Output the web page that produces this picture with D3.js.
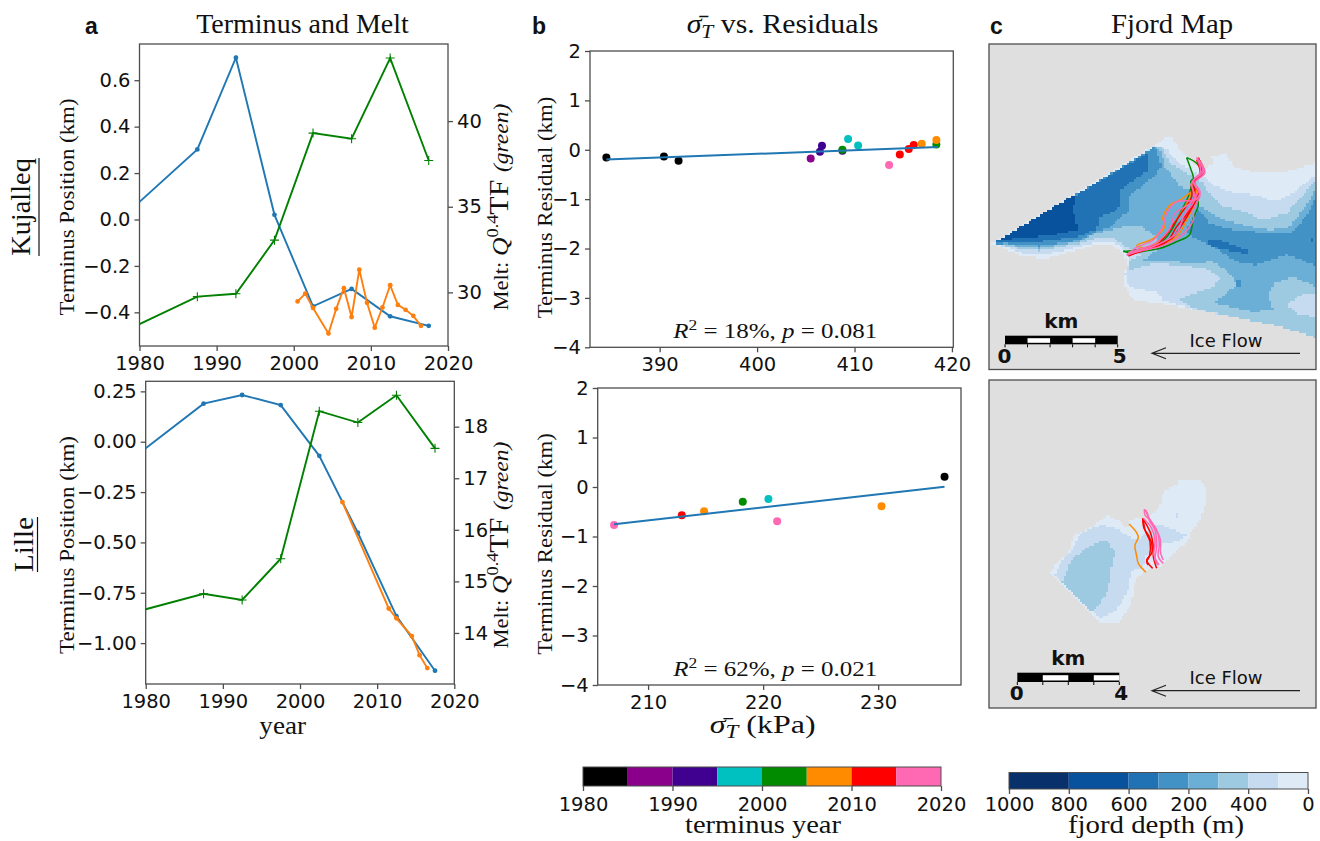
<!DOCTYPE html>
<html>
<head>
<meta charset="utf-8">
<script src="https://cdn.jsdelivr.net/npm/d3@7"></script>
<style>
  body { margin: 0; background: #fff; }
  text { fill: #111; }
  .tick line { stroke: #4d4d4d; stroke-width: 1.3px; }
  .serif { font-family: "Liberation Serif", serif; }
  .dv { font-family: "DejaVu Sans", sans-serif; }
</style>
</head>
<body>
<svg id="fig" width="1320" height="841"></svg>
<script>
// panel a, Kujalleq
const surveyYears = [1980, 1987.5, 1992.5, 1997.5, 2002.5, 2007.5, 2012.5, 2017.5];
const kujTerminus = [0.076, 0.302, 0.697, 0.02, -0.374, -0.299, -0.417, -0.458];
const kujMelt = [28.15, 29.75, 29.92, 33.05, 39.3, 38.97, 43.68, 37.7];
const kujOrangeYears = [2000.5, 2001.5, 2002.5, 2004.5, 2005.5, 2006.5, 2007.5, 2008.5, 2009.5, 2010.5, 2011.5, 2012.5, 2013.5, 2014.5, 2015.5, 2016.5];
const kujOrange = [-0.353, -0.319, -0.381, -0.491, -0.385, -0.296, -0.42, -0.216, -0.359, -0.466, -0.379, -0.283, -0.368, -0.389, -0.415, -0.458];

// panel a, Lille
const lilTerminus = [-0.033, 0.189, 0.232, 0.182, -0.07, -0.452, -0.866, -1.137];
const lilMelt = [14.46, 14.76, 14.64, 15.44, 18.3, 18.08, 18.61, 17.58];
const lilOrangeYears = [2005.5, 2011.5, 2012.5, 2014.5, 2015.5, 2016.5];
const lilOrange = [-0.3, -0.828, -0.877, -0.965, -1.06, -1.124];

// panel b, scatter: stress, residual, colour band
const kujStress = [384.53, 390.44, 391.94, 405.5, 406.45, 406.66, 408.76, 408.76, 409.34, 410.37, 413.55, 414.65, 415.57, 416.08, 418.4, 416.9, 418.4];
const kujResidual = [-0.155, -0.135, -0.223, -0.176, -0.04, 0.08, -0.02, 0, 0.216, 0.088, -0.31, -0.095, 0.014, 0.095, 0.108, 0.122, 0.196];
const kujYearBand = [0, 0, 0, 1, 2, 2, 2, 4, 3, 3, 7, 6, 6, 6, 4, 5, 5];
const kujFit = [[384.53, -0.196], [418.55, 0.054]];

const lilStress = [207.04, 221.22, 212.93, 214.87, 230.29, 218.23, 220.46, 235.77];
const lilResidual = [-0.768, -0.694, -0.572, -0.49, -0.39, -0.296, -0.242, 0.209];
const lilYearBand = [7, 7, 6, 5, 5, 4, 3, 0];
const lilFit = [[207.04, -0.754], [235.77, 0.007]];

// colour bars
const yearEdges = [1980, 1985, 1990, 1995, 2000, 2005, 2010, 2015, 2020];
const yearColors = ["#000000", "#8b008b", "#400090", "#00c0c0", "#008b00", "#ff8c00", "#ff0000", "#ff69b4"];
const depthEdges = [1000, 800, 600, 500, 400, 300, 200, 100, 0];
const depthColors = ["#08306b", "#08519c", "#2171b5", "#4292c6", "#6baed6", "#9ecae1", "#c6dbef", "#deebf7"];
const depthTicks = [1000, 800, 600, 400, 200, 0];
const depthTickLabels = ["1000", "800", "600", "200", "400", "0"];

const kujRingBands = [7, 6, 5, 4, 3, 3, 2, 2, 3, 6, 1, 2];
const kujRings = [
  [[35,340],[530,42],[545,30],[572,18],[600,60],[640,100],[672,120],[700,100],[695,80],[735,70],[765,112],[830,128],[920,125],[1007,100],[1007,622],[900,590],[780,565],[650,540],[540,520],[460,510],[430,462],[440,395],[430,375],[400,347],[350,342],[300,358],[200,385],[130,380],[70,355]],
  [[50,345],[530,45],[560,55],[590,95],[640,125],[680,145],[700,165],[760,190],[830,195],[880,215],[930,195],[1007,135],[1007,622],[900,590],[780,565],[650,540],[545,510],[540,490],[445,470],[435,430],[450,385],[440,365],[400,335],[350,335],[300,350],[190,375],[130,370],[80,352]],
  [[55,342],[530,48],[545,50],[570,100],[640,140],[670,160],[690,195],[730,230],[790,245],[850,270],[920,250],[960,205],[1007,150],[1007,622],[900,590],[780,565],[640,535],[600,510],[640,490],[700,470],[720,445],[690,420],[620,408],[520,400],[450,420],[445,395],[480,375],[440,350],[400,325],[350,325],[300,340],[180,362],[130,358],[80,348]],
  [[50,342],[525,50],[540,60],[555,110],[600,170],[640,180],[660,230],[730,270],[810,290],[870,300],[930,290],[980,225],[1007,180],[1007,470],[940,440],[880,460],[865,500],[880,540],[820,545],[700,520],[770,465],[750,430],[700,395],[620,400],[560,390],[490,390],[530,360],[530,320],[480,285],[430,290],[350,310],[300,335],[180,355],[130,350],[75,345]],
  [[45,342],[525,50],[545,110],[520,140],[450,195],[450,240],[415,265],[395,290],[350,305],[300,330],[180,348],[130,345],[75,340]],
  [[655,240],[690,280],[760,300],[880,310],[940,305],[985,250],[1007,200],[1007,405],[920,375],[830,405],[770,395],[700,350],[640,320],[620,300],[640,260]],
  [[40,340],[505,68],[505,120],[420,180],[415,240],[360,260],[350,298],[295,320],[140,340],[65,340]],
  [[685,330],[720,330],[800,360],[805,372],[750,362],[690,350]],
  [[770,450],[785,450],[785,470],[770,470]],
  [[920,525],[960,495],[1007,490],[1007,560],[960,555]],
  [[45,338],[280,195],[290,190],[280,240],[295,300],[200,318],[130,322],[60,332]],
  [[992,325],[1000,325],[1000,335],[992,335]]
];
const lilRingBands = [7, 6, 5, 6];
const lilRings = [
  [[150,372],[165,345],[205,310],[220,260],[285,225],[320,195],[345,205],[385,235],[390,210],[430,200],[440,210],[485,160],[490,125],[530,105],[535,90],[600,90],[620,120],[615,165],[600,210],[570,250],[560,280],[530,300],[510,325],[480,350],[430,365],[405,395],[395,460],[360,515],[295,515],[270,490],[190,410]],
  [[165,375],[185,335],[215,300],[240,250],[300,225],[340,230],[395,265],[410,270],[470,220],[510,235],[560,255],[530,275],[490,280],[440,310],[430,350],[395,362],[385,420],[350,480],[300,505],[275,480],[190,405]],
  [[187,395],[215,330],[250,300],[285,280],[320,270],[345,310],[335,350],[325,420],[295,470],[275,487],[240,450]],
  [[530,188],[537,188],[537,205],[530,205]]
];

// glacier fronts on the map, by colour band
const kujFrontBands = [4, 4, 5, 5, 5, 6, 6, 6, 7, 7, 7, 7];
const kujFronts = [
  [[620,83],[628,105],[637,130],[640,145],[632,155],[650,185],[655,225],[640,265],[628,315],[590,335],[540,355],[480,365],[445,368],[430,362]],
  [[620,83],[650,100],[665,130],[640,155],[625,200],[600,250],[575,300],[540,340],[480,358],[430,365]],
  [[635,185],[600,210],[570,225],[548,265],[556,285],[520,325],[470,347],[490,355],[445,372]],
  [[640,160],[630,200],[605,245],[575,290],[540,335],[490,358],[445,370]],
  [[650,170],[645,215],[620,270],[590,320],[530,350],[445,372]],
  [[655,83],[665,125],[640,155],[645,195],[625,245],[590,290],[560,335],[500,358],[445,375]],
  [[655,85],[672,125],[645,155],[655,190],[635,235],[605,285],[575,325],[510,352],[445,378]],
  [[650,90],[660,130],[635,160],[635,200],[600,255],[565,305],[530,345],[445,375]],
  [[652,85],[672,125],[640,152],[660,185],[645,210],[590,215],[560,250],[548,290],[520,330],[470,352],[440,375]],
  [[650,82],[668,120],[638,155],[655,180],[630,220],[585,250],[570,295],[525,340],[470,360],[440,376]],
  [[655,90],[675,128],[645,158],[660,195],[640,240],[640,270],[600,320],[540,350],[470,365],[442,375]],
  [[650,85],[662,125],[635,160],[645,205],[610,260],[590,310],[530,345],[445,372]]
];
const lilFrontBands = [5, 6, 6, 6, 7, 7, 7, 7];
const lilFronts = [
  [[387,222],[408,245],[415,262],[405,285],[410,318],[415,340],[438,367]],
  [[428,205],[432,235],[445,255],[455,280],[455,310],[440,330],[458,355]],
  [[428,205],[440,225],[452,250],[460,290],[460,320],[470,355]],
  [[430,208],[435,240],[450,275],[448,320],[440,335],[445,345]],
  [[433,178],[435,195],[445,205],[470,240],[478,280],[475,320],[490,340]],
  [[433,178],[442,190],[448,212],[465,240],[470,290],[465,330],[475,345]],
  [[437,180],[445,200],[460,225],[480,265],[482,310],[490,330]],
  [[430,205],[455,235],[465,270],[462,315],[477,345]]
];

const blue = "#1f77b4", orange = "#ff7f0e", green = "#008000", frame = "#4d4d4d";
const svg = d3.select("#fig");

function axisFrame(left, right, top, bottom) {
  const g = svg.append("g");
  g.append("rect").attr("class", "frame").attr("x", left).attr("y", top)
    .attr("width", right - left).attr("height", bottom - top)
    .attr("fill", "none").attr("stroke", frame).attr("stroke-width", 1.3);
  return g;
}

function addAxis(axis, x, y, padding = 4) {
  const a = svg.append("g").attr("transform", `translate(${x},${y})`)
    .call(axis.tickSize(5).tickPadding(padding));
  a.select(".domain").remove();
  a.selectAll(".tick text").attr("font-family", "DejaVu Sans").attr("font-size", 19.5);
}

// serif text stretched to the width it has in the figure
function fitWidth(t, len) {
  return t.attr("textLength", len).attr("lengthAdjust", "spacingAndGlyphs");
}

function label(text, x, y, size, len, rotate) {
  const t = svg.append("text").attr("class", "serif")
    .attr("transform", `translate(${x},${y})` + (rotate ? " rotate(-90)" : ""))
    .attr("text-anchor", "middle").attr("font-size", size).text(text);
  return fitWidth(t, len);
}

function meltLabel(x, y) {
  const t = svg.append("text").attr("class", "serif")
    .attr("transform", `translate(${x},${y}) rotate(-90)`)
    .attr("text-anchor", "middle").attr("font-size", 21);
  t.append("tspan").text("Melt: ");
  t.append("tspan").attr("font-style", "italic").attr("font-size", 24).text("Q");
  t.append("tspan").attr("font-size", 17).attr("dy", -10).text("0.4");
  t.append("tspan").attr("font-size", 28).attr("dy", 10).text("TF ");
  t.append("tspan").attr("font-style", "italic").attr("font-size", 22).text("(green)");
  fitWidth(t, 207);
}

function sigmaT(t, size) {
  t.append("tspan").attr("font-style", "italic").attr("font-size", size).text("\u03c3\u0304");
  t.append("tspan").attr("font-style", "italic").attr("font-size", size * 0.72).attr("dy", 5).text("T");
}

// left column: terminus position and melt on two y axes
function terminusPanel(o) {
  const x = d3.scaleLinear().domain([1980, 2020]).range([o.left, o.right]);
  const y = d3.scaleLinear().domain(o.yDomain).range([o.bottom, o.top]);
  const y2 = d3.scaleLinear().domain(o.y2Domain).range([o.bottom, o.top]);
  const g = axisFrame(o.left, o.right, o.top, o.bottom);

  addAxis(d3.axisBottom(x).tickValues([1980, 1990, 2000, 2010, 2020]).tickFormat(d3.format("d")), 0, o.bottom, 5);
  addAxis(d3.axisLeft(y).tickValues(o.yTicks).tickFormat(d3.format(o.yFormat)), o.left, 0);
  addAxis(d3.axisRight(y2).tickValues(o.y2Ticks).tickFormat(d3.format("d")), o.right, 0);

  const series = (xs, ys, color, scale) => {
    const pts = xs.map((d, i) => [x(d), scale(ys[i])]);
    g.append("path").attr("d", d3.line()(pts)).attr("fill", "none")
      .attr("stroke", color).attr("stroke-width", 1.9);
    return pts;
  };
  const dots = (pts, color) => g.selectAll(null).data(pts).join("circle")
    .attr("cx", d => d[0]).attr("cy", d => d[1]).attr("r", 2.4).attr("fill", color);

  // the first blue and green values sit on the axis edge with no marker showing
  dots(series(surveyYears, o.terminus, blue, y).slice(1), blue);
  dots(series(o.orangeYears, o.orange, orange, y), orange);
  const meltPts = series(surveyYears, o.melt, green, y2).slice(1);
  g.selectAll(null).data(meltPts).join("path")
    .attr("d", d => `M${d[0] - 4.5},${d[1]}H${d[0] + 4.5}M${d[0]},${d[1] - 4.5}V${d[1] + 4.5}`)
    .attr("stroke", green).attr("stroke-width", 1.1);
}

// middle column: stress against residual
function scatterPanel(o) {
  const x = d3.scaleLinear().domain(o.xDomain).range([o.left, o.right]);
  const y = d3.scaleLinear().domain([-4, 2]).range([o.bottom, o.top]);
  const g = axisFrame(o.left, o.right, o.top, o.bottom);

  addAxis(d3.axisBottom(x).tickValues(o.xTicks).tickFormat(d3.format("d")), 0, o.bottom, 5);
  addAxis(d3.axisLeft(y).tickValues(d3.range(-4, 3)).tickFormat(d3.format("d")), o.left, 0);

  g.selectAll(null).data(o.stress).join("circle")
    .attr("cx", d => x(d)).attr("cy", (d, i) => y(o.residual[i])).attr("r", 4)
    .attr("fill", (d, i) => yearColors[o.bands[i]]);
  g.append("path").attr("d", d3.line().x(d => x(d[0])).y(d => y(d[1]))(o.fit))
    .attr("fill", "none").attr("stroke", blue).attr("stroke-width", 2);

  const t = svg.append("text").attr("class", "serif").attr("x", 775.3).attr("y", o.statY)
    .attr("text-anchor", "middle").attr("font-size", 20).attr("fill", "#333");
  t.append("tspan").attr("font-style", "italic").text("R");
  t.append("tspan").attr("font-size", 14).attr("dy", -8).text("2");
  t.append("tspan").attr("dy", 8).text(` = ${o.r2}%, `);
  t.append("tspan").attr("font-style", "italic").text("p");
  t.append("tspan").text(` = ${o.p}`);
  fitWidth(t, 204);
}

// right column: rasterised depth bands with fronts on top
function mapPanel(o) {
  const g = axisFrame(o.left, o.right, o.top, o.bottom);
  const x = d3.scaleLinear().domain(o.xDomain).range([o.left, o.right]);
  const y = d3.scaleLinear().domain(o.yDomain).range([o.top, o.bottom]);
  g.insert("rect", ".frame").attr("x", o.left).attr("y", o.top)
    .attr("width", o.right - o.left).attr("height", o.bottom - o.top).attr("fill", "#dfdfdf");

  const cell = o.cell;
  o.rings.forEach((ring, i) => {
    let d = "";
    for (let gy = o.yDomain[0]; gy < o.yDomain[1]; gy += cell) {
      let start = null;
      for (let gx = o.xDomain[0]; gx <= o.xDomain[1]; gx += cell) {
        const inside = gx < o.xDomain[1] && d3.polygonContains(ring, [gx + cell / 2, gy + cell / 2]);
        if (inside && start === null) start = gx;
        if (!inside && start !== null) {
          d += `M${x(start)},${y(gy)}H${x(gx)}V${y(gy + cell)}H${x(start)}Z`;
          start = null;
        }
      }
    }
    g.append("path").attr("d", d).attr("fill", depthColors[o.ringBands[i]])
      .attr("shape-rendering", "crispEdges").style("filter", "blur(0.5px)");
  });

  const line = d3.line().x(d => x(d[0])).y(d => y(d[1])).curve(d3.curveCatmullRom);
  g.selectAll(null).data(o.fronts).join("path").attr("d", line)
    .attr("fill", "none").attr("stroke-width", 1.5)
    .attr("stroke", (d, i) => yearColors[o.frontBands[i]]);

  g.select(".frame").raise();

  // scale bar in km
  const km = d3.scaleLinear().domain([0, o.km]).range([o.barLeft, o.barRight]);
  g.append("rect").attr("x", km(0)).attr("y", o.barY).attr("width", km(o.km) - km(0)).attr("height", o.barH).attr("fill", "#000");
  d3.range(1, o.km, 2).forEach(k => {
    g.append("rect").attr("x", km(k)).attr("y", o.barY + 2.5)
      .attr("width", km(k + 1) - km(k)).attr("height", o.barH - 4).attr("fill", "#fff");
  });
  d3.range(0, o.km + 1).forEach(k => {
    g.append("line").attr("x1", km(k)).attr("x2", km(k)).attr("y1", o.barY + o.barH).attr("y2", o.barY + o.barH + 3)
      .attr("stroke", "#000").attr("stroke-width", 1);
  });
  const bold = (text, tx, ty) => svg.append("text").attr("class", "dv").attr("font-weight", "bold")
    .attr("font-size", 20).attr("text-anchor", "middle").attr("x", tx).attr("y", ty).text(text);
  bold("km", (km(0) + km(o.km)) / 2, o.barY - 8);
  bold("0", km(0) - 0.5, o.barY + 27);
  bold(String(o.km), km(o.km) + 2, o.barY + 27);

  // ice flow arrow
  const ay = o.barY + o.arrowDy;
  svg.append("text").attr("class", "dv").attr("font-size", 18).attr("text-anchor", "middle")
    .attr("x", 1226).attr("y", ay - 6.5).text("Ice Flow");
  svg.append("path").attr("d", `M1300,${ay}H1152M1166,${ay - 5.5}L1152,${ay}L1166,${ay + 5.5}`)
    .attr("fill", "none").attr("stroke", "#222").attr("stroke-width", 1.2);
}

function colorBar(edges, colors, left, right, top, bottom, tickValues, tickLabels, padding) {
  const x = d3.scaleLinear().domain([edges[0], edges[edges.length - 1]]).range([left, right]);
  const g = svg.append("g");
  g.selectAll(null).data(colors).join("rect")
    .attr("x", (d, i) => x(edges[i])).attr("y", top)
    .attr("width", (d, i) => x(edges[i + 1]) - x(edges[i])).attr("height", bottom - top)
    .attr("fill", d => d);
  g.append("rect").attr("x", left).attr("y", top).attr("width", right - left).attr("height", bottom - top)
    .attr("fill", "none").attr("stroke", frame).attr("stroke-width", 1);
  addAxis(d3.axisBottom(x).tickValues(tickValues).tickFormat((d, i) => tickLabels[i]), 0, bottom, padding);
}

// titles and panel letters
label("Terminus and Melt", 302.5, 33, 27, 212.7);
label("Fjord Map", 1172, 33, 27, 122);
const bTitle = svg.append("text").attr("class", "serif").attr("x", 782.5).attr("y", 33)
  .attr("text-anchor", "middle").attr("font-size", 27);
sigmaT(bTitle, 27);
bTitle.append("tspan").attr("dy", -5).text(" vs. Residuals");
fitWidth(bTitle, 191.7);
[["a", 85], ["b", 532], ["c", 990]].forEach(([s, px]) => {
  svg.append("text").attr("x", px).attr("y", 34).attr("font-family", "Liberation Sans")
    .attr("font-weight", "bold").attr("font-size", 23).text(s);
});

// glacier names
label("Kujalleq", 30, 207, 28, 97.7, true);
svg.append("line").attr("x1", 39).attr("x2", 39).attr("y1", 158).attr("y2", 256).attr("stroke", "#111").attr("stroke-width", 1.2);
label("Lille", 33, 544.5, 28, 55, true);
svg.append("line").attr("x1", 37.5).attr("x2", 37.5).attr("y1", 517).attr("y2", 572).attr("stroke", "#111").attr("stroke-width", 1.2);

// panel a
terminusPanel({
  left: 139.5, right: 448, top: 44, bottom: 346,
  yDomain: [-0.545, 0.756], yTicks: [-0.4, -0.2, 0, 0.2, 0.4, 0.6], yFormat: ".1f",
  y2Domain: [26.87, 44.5], y2Ticks: [30, 35, 40],
  terminus: kujTerminus, melt: kujMelt, orangeYears: kujOrangeYears, orange: kujOrange
});
terminusPanel({
  left: 145.7, right: 454.3, top: 381.3, bottom: 684,
  yDomain: [-1.203, 0.3], yTicks: [-1, -0.75, -0.5, -0.25, 0, 0.25], yFormat: ".2f",
  y2Domain: [13.01, 18.88], y2Ticks: [14, 15, 16, 17, 18],
  terminus: lilTerminus, melt: lilMelt, orangeYears: lilOrangeYears, orange: lilOrange
});
label("Terminus Position (km)", 74, 207, 22, 217, true);
label("Terminus Position (km)", 74, 545, 22, 218, true);
meltLabel(508, 207);
meltLabel(508, 545);
label("year", 282.7, 734, 26, 46.7);

// panel b
scatterPanel({
  left: 590, right: 953.3, top: 51, bottom: 347.3,
  xDomain: [382.85, 420.14], xTicks: [390, 400, 410, 420],
  stress: kujStress, residual: kujResidual, bands: kujYearBand, fit: kujFit,
  statY: 338, r2: 18, p: "0.081"
});
scatterPanel({
  left: 597.7, right: 961, top: 388, bottom: 685,
  xDomain: [205.62, 237.2], xTicks: [210, 220, 230],
  stress: lilStress, residual: lilResidual, bands: lilYearBand, fit: lilFit,
  statY: 676, r2: 62, p: "0.021"
});
label("Terminus Residual (km)", 552, 207.5, 22, 221.7, true);
label("Terminus Residual (km)", 552, 544, 22, 221.7, true);
const sigmaLabel = svg.append("text").attr("class", "serif").attr("x", 762.7).attr("y", 733)
  .attr("text-anchor", "middle").attr("font-size", 26);
sigmaT(sigmaLabel, 26);
sigmaLabel.append("tspan").attr("dy", -5).text(" (kPa)");
fitWidth(sigmaLabel, 105.7);

// panel c
mapPanel({
  left: 989, right: 1316, top: 44, bottom: 369.5, cell: 7,
  xDomain: [27, 1008], yDomain: [-258, 718.5],
  rings: kujRings, ringBands: kujRingBands, fronts: kujFronts, frontBands: kujFrontBands,
  km: 5, barLeft: 1005, barRight: 1117.7, barY: 335.7, barH: 8.6, arrowDy: 17.6
});
mapPanel({
  left: 989, right: 1316, top: 380, bottom: 708, cell: 7,
  xDomain: [-33, 948], yDomain: [-210, 774],
  rings: lilRings, ringBands: lilRingBands, fronts: lilFronts, frontBands: lilFrontBands,
  km: 4, barLeft: 1017.3, barRight: 1119.3, barY: 672.7, barH: 9.3, arrowDy: 18
});

// colour bars
colorBar(yearEdges, yearColors, 583, 941, 767, 786, [1980, 1990, 2000, 2010, 2020], ["1980", "1990", "2000", "2010", "2020"], 6);
colorBar(depthEdges, depthColors, 1009, 1308, 772.5, 789, depthTicks, depthTickLabels, 3.5);
label("terminus year", 763, 833, 25, 156);
label("fjord depth (m)", 1156, 833, 25, 176);
</script>
</body>
</html>
